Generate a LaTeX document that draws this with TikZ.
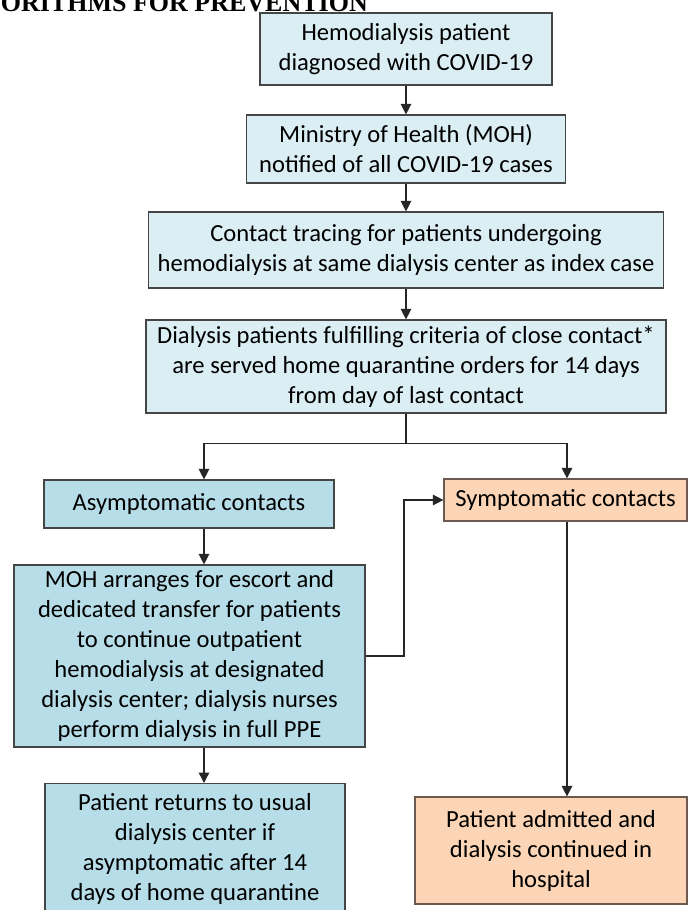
\documentclass[tikz,border=0pt]{standalone}
\usepackage{fontspec}
\setmainfont{Carlito}
\newfontfamily\hdrfont{Liberation Serif}
\usetikzlibrary{arrows.meta}
\definecolor{paleblue}{HTML}{DBEEF4}
\definecolor{midblue}{HTML}{B7DEE8}
\definecolor{peach}{HTML}{FBD5B5}
\definecolor{boxline}{HTML}{454545}
\definecolor{peachline}{HTML}{6B5A50}
\tikzset{
  box/.style={draw=boxline, line width=1.2pt, inner sep=0pt, align=center,
    font=\fontsize{24.6}{30}\selectfont, text=black},
  pale/.style={box, fill=paleblue},
  mid/.style={box, fill=midblue},
  orange/.style={box, fill=peach, draw=peachline},
  arr/.style={line width=1.4pt, draw=black!85, -{Triangle[width=10.5pt,length=10.5pt]}},
  conn/.style={line width=1.4pt, draw=black!85},
}
\begin{document}
\begin{tikzpicture}[x=1pt,y=-1pt]
\useasboundingbox (0,0) rectangle (689,910);
\clip (0,0) rectangle (689,910);
\fill[white] (0,0) rectangle (689,910);

\node[anchor=base east, font=\hdrfont\bfseries\fontsize{26}{26}\selectfont, inner sep=0pt] (hdr) at (368,12) {ORITHMS FOR PREVENTION};

\node[pale, minimum width=292pt, minimum height=72pt] (b1) at (406,49) {Hemodialysis patient\\diagnosed with COVID-19};
\node[pale, minimum width=319pt, minimum height=68pt] (b2) at (406,149) {Ministry of Health (MOH)\\notified of all COVID-19 cases};
\node[pale, minimum width=515pt, minimum height=76pt] (b3) at (406,250) {Contact tracing for patients undergoing\\hemodialysis at same dialysis center as index case};
\node[pale, minimum width=520pt, minimum height=93pt] (b4) at (406,366.5) {Dialysis patients fulfilling criteria of close contact*\\are served home quarantine orders for 14 days\\from day of last contact};

\node[mid, minimum width=290pt, minimum height=48pt] (asym) at (189,504) {Asymptomatic contacts};
\node[orange, minimum width=243pt, minimum height=42pt] (symp) at (565.5,500) {Symptomatic contacts};

\node[mid, minimum width=351pt, minimum height=182pt] (moh) at (189.5,656) {MOH arranges for escort and\\dedicated transfer for patients\\to continue outpatient\\hemodialysis at designated\\dialysis center; dialysis nurses\\perform dialysis in full PPE};

\node[mid, minimum width=300pt, minimum height=130pt, anchor=north] (ret) at (195,783) {Patient returns to usual\\dialysis center if\\asymptomatic after 14\\days of home quarantine};
\node[orange, minimum width=272pt, minimum height=107pt] (adm) at (551,850.5) {Patient admitted and\\dialysis continued in\\hospital};

\draw[arr] (b1.south) -- (b2.north);
\draw[arr] (b2.south) -- (b3.north);
\draw[arr] (b3.south) -- (b4.north);
\draw[conn] (b4.south) -- ++(0,30) coordinate (split);
\draw[arr] (split) -| ([xshift=15pt]asym.north);
\draw[arr] (split) -| (symp.north -| 567,0);
\draw[arr] ([xshift=15pt]asym.south) -- ([xshift=15pt]asym.south |- moh.north);
\draw[arr] (moh.south -| 204,0) -- (ret.north -| 204,0);
\draw[arr] (moh.east) -- (404,656) |- (symp.west);
\draw[arr] (symp.south -| 567,0) -- (adm.north -| 567,0);
\end{tikzpicture}
\end{document}
